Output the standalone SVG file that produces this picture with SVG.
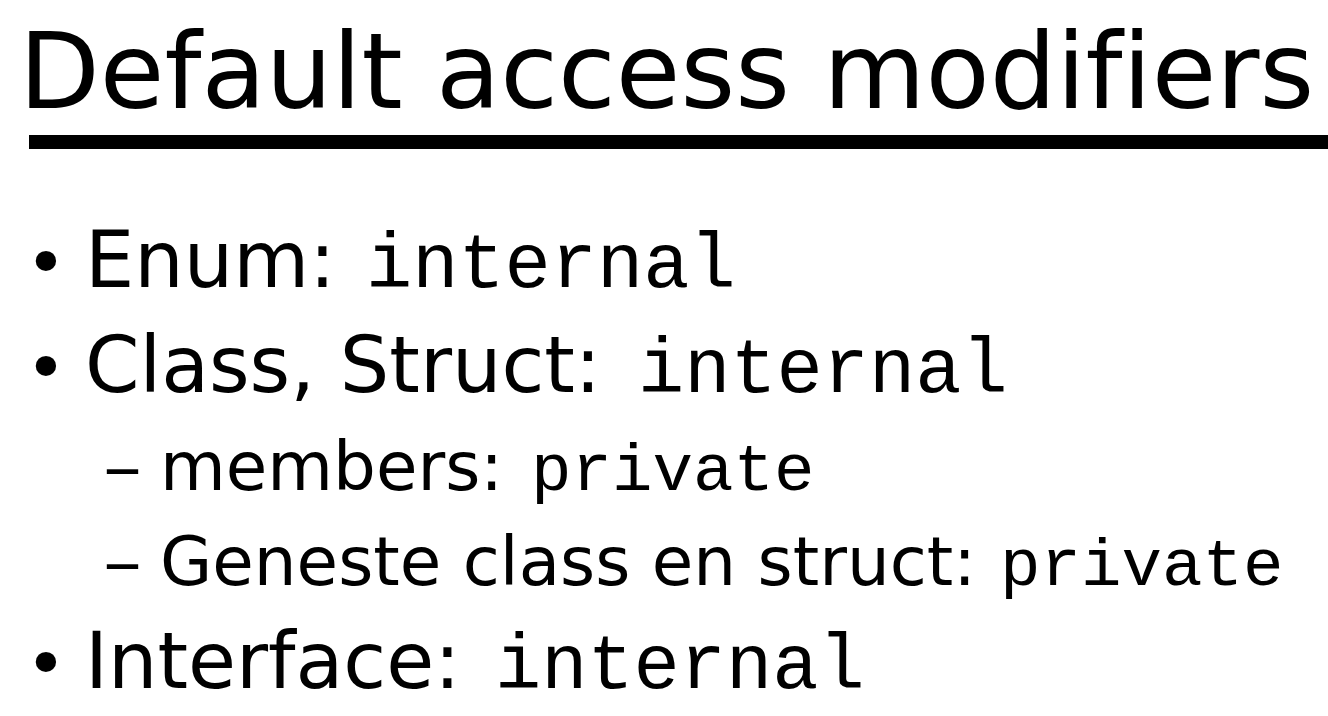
<svg xmlns="http://www.w3.org/2000/svg" width="1328" height="716" viewBox="0 0 1328 716">
<style>
.sans{font-family:"DejaVu Sans","Verdana",sans-serif;fill:#000;font-variant-ligatures:none;font-feature-settings:"liga" 0,"clig" 0}
.mono{font-family:"Liberation Mono","Courier New",monospace;fill:#000}
.t{font-size:105px}
.l1{font-size:78px}
.l2{font-size:67.5px}
.m1{font-size:77px}
.m2{font-size:67.5px}
.b{font-size:70px}
</style>
<rect width="1328" height="716" fill="#fff"/>
<g id="title">
<text class="sans t" x="19" y="108">Default access modifiers</text>
<rect x="29" y="135" width="1299" height="14" fill="#000"/>
</g>
<g id="item-enum">
<text class="sans b" x="46" y="287" text-anchor="middle">•</text>
<text class="sans l1" x="85" y="287">Enum:</text>
<text class="mono m1" x="366" y="287">internal</text>
</g>
<g id="item-class">
<text class="sans b" x="46" y="392" text-anchor="middle">•</text>
<text class="sans l1" x="85" y="392">Class, Struct:</text>
<text class="mono m1" x="638" y="392">internal</text>
</g>
<g id="item-members">
<text class="sans l2" x="103" y="490" textLength="39" lengthAdjust="spacingAndGlyphs">–</text>
<text class="sans l2" x="160" y="490">members:</text>
<text class="mono m2" x="531" y="490">private</text>
</g>
<g id="item-nested">
<text class="sans l2" x="103" y="585" textLength="39" lengthAdjust="spacingAndGlyphs">–</text>
<text class="sans l2" x="160" y="585">Geneste class en struct:</text>
<text class="mono m2" x="1000" y="585">private</text>
</g>
<g id="item-interface">
<text class="sans b" x="46" y="688" text-anchor="middle">•</text>
<text class="sans l1" x="85" y="688">Interface:</text>
<text class="mono m1" x="495" y="688">internal</text>
</g>
</svg>
